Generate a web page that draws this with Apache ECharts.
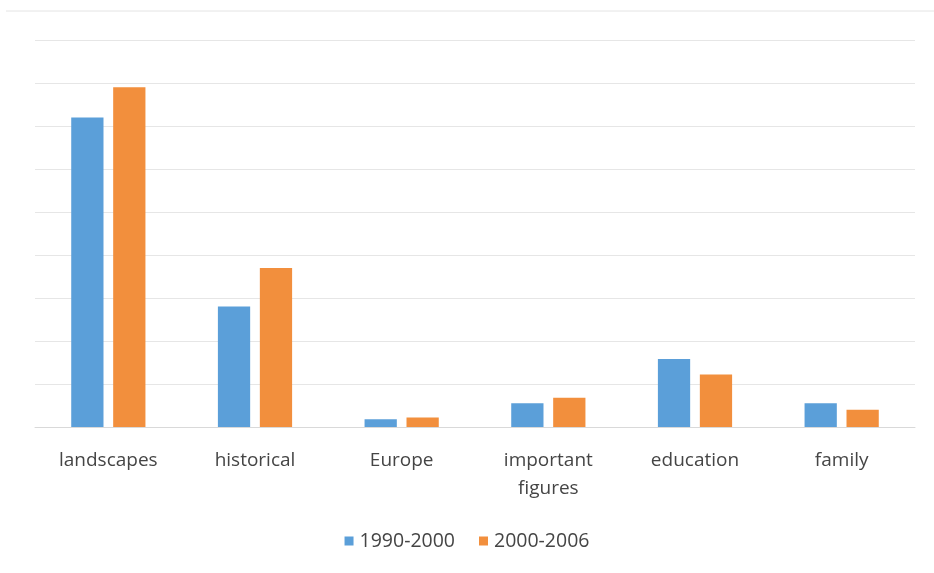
<!DOCTYPE html>
<html>
<head>
<meta charset="utf-8">
<script src="https://cdn.jsdelivr.net/npm/echarts@6/dist/echarts.min.js"></script>
<style>
  html, body { margin: 0; padding: 0; background: #fff; }
  #chart { width: 934px; height: 573px; }
</style>
</head>
<body>
<div id="chart"></div>
<script>
// categories and series (one gridline = 5 units)
const categories = ['landscapes', 'historical', 'Europe', 'important figures', 'education', 'family'];
const seriesNames = ['1990-2000', '2000-2006'];
const values1990 = [36, 14, 0.9, 2.75, 7.9, 2.75];
const values2000 = [39.5, 18.5, 1.1, 3.4, 6.1, 2.0];

let chartDom = document.getElementById('chart');
let myChart = echarts.init(chartDom);
let option;

option = {
  animation: false,
  graphic: [
    {
      type: 'line',
      shape: { x1: 6, y1: 11, x2: 934, y2: 11 },
      style: { stroke: '#e4e4e4', lineWidth: 1 }
    }
  ],
  grid: { left: 35, right: 19, top: 40, bottom: 146 },
  legend: {
    data: seriesNames,
    left: 'center',
    top: 526,
    itemWidth: 9,
    itemHeight: 9,
    itemGap: 24,
    icon: 'rect',
    textStyle: { fontFamily: 'Open Sans', fontSize: 19.5, color: '#454545', padding: [0, 0, 0, 1] }
  },
  xAxis: {
    type: 'category',
    data: categories,
    axisLine: { lineStyle: { color: '#d9d9d9' } },
    axisTick: { show: false },
    axisLabel: {
      fontFamily: 'Open Sans',
      fontSize: 19,
      color: '#454545',
      margin: 20,
      lineHeight: 28,
      interval: 0,
      formatter: v => v.replace(' ', '\n')
    }
  },
  yAxis: {
    type: 'value',
    min: 0,
    max: 45,
    interval: 5,
    axisLabel: { show: false },
    axisLine: { show: false },
    axisTick: { show: false },
    splitLine: { lineStyle: { color: '#e6e6e6' } }
  },
  series: [
    {
      name: seriesNames[0],
      type: 'bar',
      data: values1990,
      barWidth: '22%',
      barGap: '30%',
      itemStyle: { color: '#5b9fd9' }
    },
    {
      name: seriesNames[1],
      type: 'bar',
      data: values2000,
      barWidth: '22%',
      barGap: '30%',
      itemStyle: { color: '#f28f3d' }
    }
  ]
};

option && myChart.setOption(option);
</script>
</body>
</html>
